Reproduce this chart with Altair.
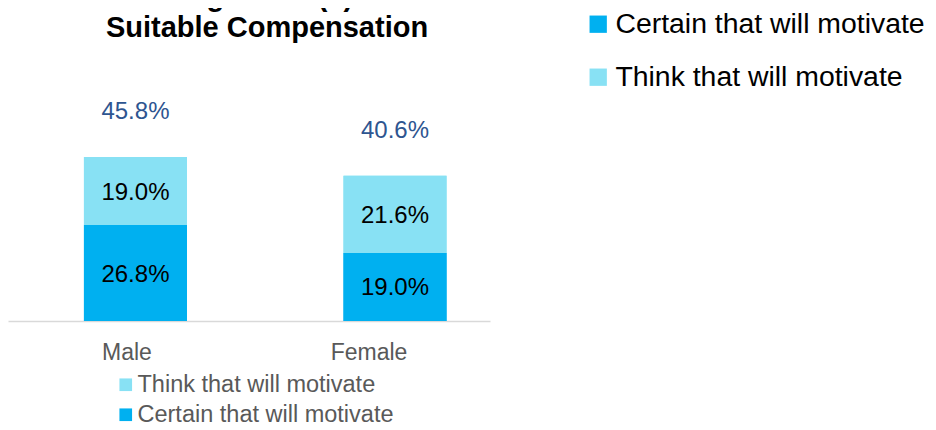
import altair as alt
import pandas as pd

genders = ["Male", "Female"]
series = ["Certain that will motivate", "Think that will motivate"]
certain = [26.8, 19.0]
think = [19.0, 21.6]
totals = [45.8, 40.6]
colors = ["#00B0F0", "#88E1F4"]
title_lines = ["Figure 3.3(a)", "Suitable Compensation"]

rows = []
for i, g in enumerate(genders):
    rows.append({"gender": g, "series": series[0], "value": certain[i], "order": 0})
    rows.append({"gender": g, "series": series[1], "value": think[i], "order": 1})
df = pd.DataFrame(rows)
tot = pd.DataFrame({"gender": genders, "total": totals})

FONT = "Liberation Sans"
x_scale = alt.Scale(domain=genders, paddingInner=0.603, paddingOuter=0.23, align=0.636)
y_scale = alt.Scale(domain=[0, 70.67], nice=False, zero=True)

x_axis = alt.Axis(
    title=None, domainColor="#D9D9D9", domainWidth=1.5, ticks=False, tickSize=0,
    labelFontSize=23, labelColor="#595959", labelFont=FONT, labelPadding=20,
    labelAngle=0, grid=False,
    labelOffset={"condition": {"test": "datum.value === 'Male'", "value": -8.5}, "value": -26},
)
X = alt.X("gender:N", scale=x_scale, axis=x_axis, sort=genders)

base = alt.Chart(df)

bars_top_legend = base.mark_bar().encode(
    x=X,
    y=alt.Y("value:Q", stack="zero", scale=y_scale, axis=None),
    order=alt.Order("order:Q"),
    color=alt.Color(
        "series:N",
        scale=alt.Scale(domain=series, range=colors),
        legend=alt.Legend(
            title=None, orient="none", legendX=576, legendY=-58,
            symbolType="square", symbolSize=300, symbolStrokeWidth=0,
            labelFontSize=28.4, labelColor="#000000", labelFont=FONT,
            labelOffset=3, rowPadding=24, padding=0, labelLimit=600,
        ),
    ),
)

bars_bottom_legend = base.mark_bar().encode(
    x=X,
    y=alt.Y("value:Q", stack="zero", scale=y_scale, axis=None),
    order=alt.Order("order:Q"),
    color=alt.Color(
        "series:N",
        scale=alt.Scale(domain=[series[1], series[0]], range=[colors[1], colors[0]]),
        legend=alt.Legend(
            title=None, orient="none", legendX=106, legendY=305,
            symbolType="square", symbolSize=160, symbolStrokeWidth=0,
            labelFontSize=23.5, labelColor="#595959", labelFont=FONT,
            labelOffset=0, rowPadding=5, padding=0, labelLimit=600,
        ),
    ),
)

seg_labels = base.transform_stack(
    stack="value", groupby=["gender"], as_=["v0", "v1"], sort=[alt.SortField("order")]
).transform_calculate(
    mid="(datum.v0 + datum.v1) / 2",
    label="format(datum.value, '.1f') + '%'",
).mark_text(fontSize=24, font=FONT, color="#000000", baseline="middle", dy=1.5).encode(
    x=X,
    y=alt.Y("mid:Q", scale=y_scale, axis=None),
    text="label:N",
)

tot_labels = alt.Chart(tot).transform_calculate(
    label="format(datum.total, '.1f') + '%'"
).mark_text(fontSize=24, font=FONT, color="#2E5590", baseline="alphabetic", dy=-38).encode(
    x=X,
    y=alt.Y("total:Q", scale=y_scale, axis=None),
    text="label:N",
)

chart = alt.layer(bars_top_legend, bars_bottom_legend, seg_labels, tot_labels).resolve_scale(
    color="independent"
).properties(
    width=482,
    height=253,
    autosize=alt.AutoSizeParams(type="none"),
    padding={"left": 0, "top": 60, "right": 438, "bottom": 101},
    title=alt.TitleParams(
        text=title_lines, fontSize=29, font=FONT, fontWeight="bold", color="#000000",
        anchor="middle", dx=18, dy=33, lineHeight=31, offset=0,
    ),
).configure_view(stroke=None)

chart.save("out.html", embed_options={"renderer": "svg", "actions": False})
